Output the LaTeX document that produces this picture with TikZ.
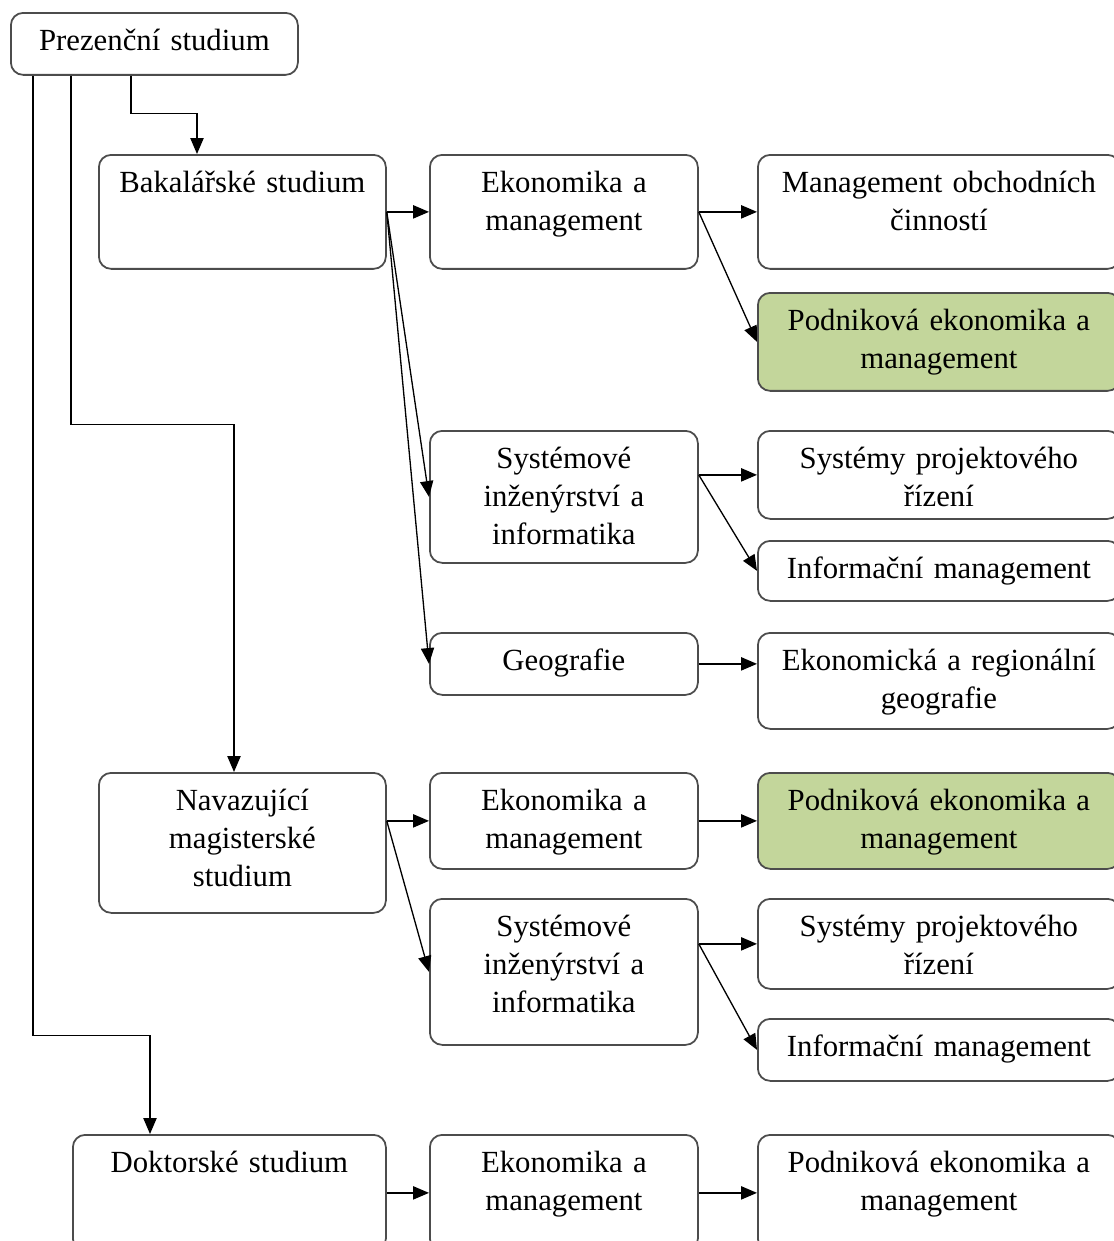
\documentclass[tikz,border=0pt]{standalone}
\usepackage{fontspec}
\setmainfont{Liberation Serif}
\usepackage{tikz}
\usetikzlibrary{arrows.meta}
\usetikzlibrary{calc}
\definecolor{specgreen}{HTML}{C3D69B}
\tikzstyle{box}=[draw=black!70, line width=1pt, rounded corners=7pt, anchor=north west, inner sep=0pt, align=center, font=\fontsize{17.5}{21.6}\selectfont]
\tikzstyle{edge} = [draw, line width=0.75pt, ->]

\begin{document}
\begin{tikzpicture}[x=0.02cm, y=-0.02cm, >={Triangle[length=9pt,width=7.5pt]}]

  \useasboundingbox (0,0) rectangle (1114,1241);
  \clip (0,0) rectangle (1114,1241);

  \foreach \x/\y/\w/\h/\col/\name/\label [evaluate=\w as \tw using \w*0.02, evaluate=\h as \td using (\h-38)*0.02] in {
      10/12/287/62/white/prez/{Prezenční studium},
      98/154/287/114/white/bak/{Bakalářské studium},
      429/154/268/114/white/eko1/{Ekonomika a\\ management},
      757/154/362/114/white/mob/{Management obchodních\\ činností},
      757/292/362/98/specgreen/pod1/{Podniková ekonomika a\\ management},
      429/430/268/132/white/sys1/{Systémové\\ inženýrství a\\ informatika},
      757/430/362/88/white/spr1/{Systémy projektového\\ řízení},
      757/540/362/60/white/inf1/{Informační management},
      429/632/268/62/white/geo/{Geografie},
      757/632/362/96/white/ekr/{Ekonomická a regionální\\ geografie},
      98/772/287/140/white/nav/{Navazující\\ magisterské\\ studium},
      429/772/268/96/white/eko2/{Ekonomika a\\ management},
      757/772/362/96/specgreen/pod2/{Podniková ekonomika a\\ management},
      429/898/268/146/white/sys2/{Systémové\\ inženýrství a\\ informatika},
      757/898/362/90/white/spr2/{Systémy projektového\\ řízení},
      757/1018/362/62/white/inf2/{Informační management},
      72/1134/313/116/white/dok/{Doktorské studium},
      429/1134/268/116/white/eko3/{Ekonomika a\\ management},
      757/1134/362/116/white/pod3/{Podniková ekonomika a\\ management}}
     \node[box, fill=\col, text width=\tw cm, text height=0.76cm, text depth=\td cm] (\name) at (\x,\y) {\label};

  % from the top box down to the three levels
  \draw[edge] ($(prez.south west)+(121,0)$) -- ++(0,38) -| ($(bak.north west)+(99,0)$);
  \draw[edge] ($(prez.south west)+(61,0)$) -- ++(0,349) -| ($(nav.north west)+(136,0)$);
  \draw[edge] ($(prez.south west)+(23,0)$) -- ++(0,960) -| ($(dok.north west)+(78,0)$);

  \foreach \source/ \dest in {bak.east/eko1.west, bak.east/sys1.west, bak.east/geo.west,
                               eko1.east/mob.west, eko1.east/pod1.west, eko2.east/pod2.west,
                               dok.east/eko3.west, eko3.east/pod3.west}
         \draw[edge] (\source) -- (\dest);

  \draw[edge] (sys1.east |- spr1.west) -- (spr1.west);
  \draw[edge] (sys1.east |- spr1.west) -- (inf1.west);
  \draw[edge] (geo.east) -- (geo.east -| ekr.west);
  \draw[edge] (nav.east |- eko2.west) -- (eko2.west);
  \draw[edge] (nav.east |- eko2.west) -- (sys2.west);
  \draw[edge] (sys2.east |- spr2.west) -- (spr2.west);
  \draw[edge] (sys2.east |- spr2.west) -- (inf2.west);

\end{tikzpicture}
\end{document}
